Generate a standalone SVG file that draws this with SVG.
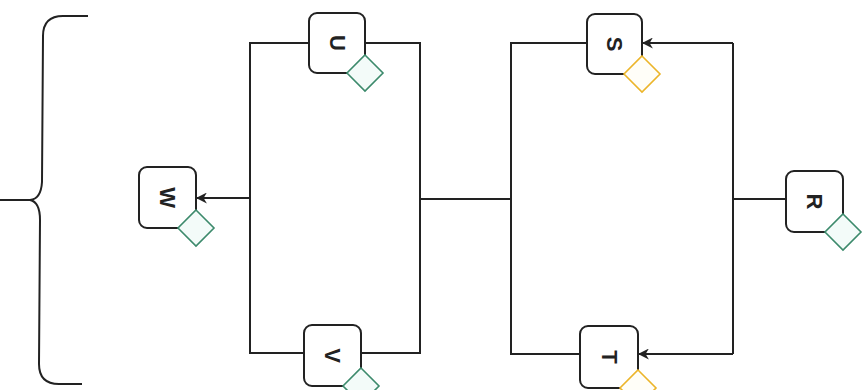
<svg xmlns="http://www.w3.org/2000/svg" width="867" height="390" viewBox="0 0 867 390">
<defs>
<style>
.box{fill:#fff;stroke:#222;stroke-width:2}
.ln{fill:none;stroke:#222;stroke-width:2}
.dg{fill:#f3fbf9;stroke:#3c8a6c;stroke-width:1.6}
.dy{fill:#fffef8;stroke:#ecb52a;stroke-width:1.6}
.lb{font-family:"Liberation Sans",Arial,sans-serif;font-size:22px;font-weight:bold;fill:#222;text-anchor:middle;dominant-baseline:central}
</style>
<marker id="ah" viewBox="0 0 10 10" refX="9" refY="5" markerWidth="11" markerHeight="11" markerUnits="userSpaceOnUse" orient="auto">
<path d="M0,0 L10,5 L0,10 L3,5 Z" fill="#222"/>
</marker>
</defs>
<rect width="867" height="390" fill="#fff"/>
<g id="brace">
<path class="ln" d="M88 16 L63 16 Q43 16 43 36 L42 182 Q41 199 30 200 L0 200 M30 200 Q40 202 40 220 L39 364 Q39 384 59 384 L82 384"/>
</g>
<g id="connectors">
<path class="ln" d="M309 43 L250 43 L250 353 L304 353 M365 43 L420 43 L420 353 L361 353"/>
<path class="ln" d="M250 198 L197 198" marker-end="url(#ah)"/>
<path class="ln" d="M420 199 L511 199"/>
<path class="ln" d="M587 43 L511 43 L511 354 L580 354"/>
<path class="ln" d="M786 199 L733 199 M733 43 L733 354"/>
<path class="ln" d="M733 43 L643 43" marker-end="url(#ah)"/>
<path class="ln" d="M733 354 L639 354" marker-end="url(#ah)"/>
</g>
<g id="U">
<rect class="box" x="309" y="13" width="56" height="60" rx="8"/>
<text class="lb" transform="translate(337 43) rotate(90)">U</text>
<path class="dg" d="M365 55 L383 73 L365 91 L347 73 Z"/>
</g>
<g id="S">
<rect class="box" x="587" y="14" width="55" height="60" rx="8"/>
<text class="lb" transform="translate(614.5 44) rotate(90)">S</text>
<path class="dy" d="M642 56 L660 74 L642 92 L624 74 Z"/>
</g>
<g id="W">
<rect class="box" x="139" y="167" width="57" height="61" rx="8"/>
<text class="lb" transform="translate(167.5 197.5) rotate(90)">W</text>
<path class="dg" d="M196 210 L214 228 L196 246 L178 228 Z"/>
</g>
<g id="R">
<rect class="box" x="786" y="171" width="57" height="61" rx="8"/>
<text class="lb" transform="translate(814.5 201.5) rotate(90)">R</text>
<path class="dg" d="M843 214 L861 232 L843 250 L825 232 Z"/>
</g>
<g id="V">
<rect class="box" x="304" y="325" width="57" height="61" rx="8"/>
<text class="lb" transform="translate(332.5 355.5) rotate(90)">V</text>
<path class="dg" d="M361 368 L379 386 L361 404 L343 386 Z"/>
</g>
<g id="T">
<rect class="box" x="580" y="326" width="58" height="62" rx="8"/>
<text class="lb" transform="translate(609 357) rotate(90)">T</text>
<path class="dy" d="M638 370 L656 388 L638 406 L620 388 Z"/>
</g>
</svg>
